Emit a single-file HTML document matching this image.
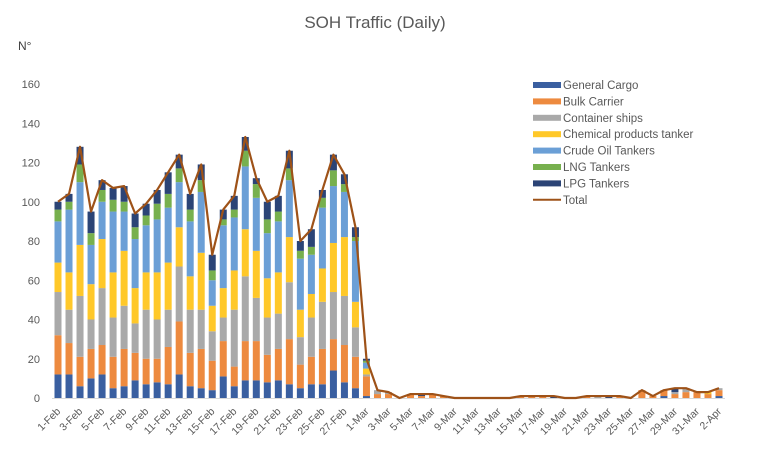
<!DOCTYPE html>
<html><head><meta charset="utf-8"><style>
html,body{margin:0;padding:0;background:#fff;}
svg{display:block;font-family:"Liberation Sans",sans-serif;}
</style></head><body>
<svg id="chart" width="763" height="454" viewBox="0 0 763 454" xmlns="http://www.w3.org/2000/svg">
<rect width="763" height="454" fill="#fff"/>
<text x="375" y="28" text-anchor="middle" font-size="17" fill="#595959">SOH Traffic (Daily)</text>
<text x="18" y="50" font-size="12" fill="#404040">N°</text>
<g id="yaxis"></g><g id="bars"></g><g id="xaxis"></g><g id="line"></g><g id="legend"></g>
</svg>
<script>
const categories = (function(){const a=[];for(let d=1;d<=28;d++)a.push(d+'-Feb');for(let d=1;d<=31;d++)a.push(d+'-Mar');a.push('1-Apr','2-Apr');return a;})();
const seriesNames = ['General Cargo','Bulk Carrier','Container ships','Chemical products tanker','Crude Oil Tankers','LNG Tankers','LPG Tankers'];
const seriesColors = ['#3a5fa0','#ed8a3f','#a9a9a9','#ffc829','#6b9fd6','#77b04e','#2b4476'];
const generalCargo = [12,12,6,10,12,5,6,9,7,8,7,12,6,5,4,11,6,9,9,8,9,7,5,7,7,14,8,5, 1,0,0,0,0,0,0,0,0,0,0,0,0,0,0,0,0,0,0,0,0,0,0,0,0,0,0,1,0,0,0,0,1,0];
const bulkCarrier = [20,16,15,15,15,16,19,14,13,12,19,27,17,20,15,18,10,20,20,14,16,23,12,14,18,16,19,16, 10,2,2,0,2,1,2,1,0,0,0,0,0,0,1,1,1,0,0,0,1,0,0,1,0,4,1,3,2,3,3,2,3];
const containerShips = [22,17,31,15,29,20,22,15,25,20,19,28,22,20,15,12,29,33,22,19,18,29,14,20,24,24,25,15, 1,2,1,0,0,0,0,0,0,0,0,0,0,0,0,0,0,0,0,0,0,1,0,0,0,0,0,0,1,2,0,0,1];
const chemicalTanker = [15,19,26,18,25,23,28,18,19,24,24,20,17,29,13,15,20,24,24,20,21,23,14,12,17,25,30,13, 3,0,0,0,0,0,0,0,0,0,0,0,0,0,0,0,0,0,0,0,0,0,0,0,0,0,0,0,0,0,0,1,0];
const crudeOilTankers = [21,32,32,20,19,31,20,25,24,27,28,23,28,31,13,32,27,32,27,23,26,29,26,20,31,29,23,31, 3,0,0,0,0,0,0,0,0,0,0,0,0,0,0,0,0,0,0,0,0,0,0,0,0,0,0,0,0,0,0,0,0];
const lngTankers = [6,4,9,6,6,6,5,6,5,8,7,7,6,6,5,3,4,8,7,7,5,6,4,4,5,8,4,2, 1,0,0,0,0,0,0,0,0,0,0,0,0,0,0,0,0,0,0,0,0,0,0,0,0,0,0,0,0,0,0,0,0];
const lpgTankers = [4,4,9,11,5,6,8,7,6,7,11,7,8,8,8,5,7,7,3,9,8,9,5,9,4,8,5,5, 1,0,0,0,0,1,0,0,0,0,0,0,0,0,0,0,0,1,0,0,0,0,1,0,0,0,0,0,2,0,0,0,0,2];
const yTicks = [0,20,40,60,80,100,120,140,160];

const series=[generalCargo,bulkCarrier,containerShips,chemicalTanker,crudeOilTankers,lngTankers,lpgTankers];
const NS='http://www.w3.org/2000/svg';
function mk(t,attrs,parent){const e=document.createElementNS(NS,t);for(const k in attrs)e.setAttribute(k,attrs[k]);parent.appendChild(e);return e;}
const n=categories.length;
const X0=58, X1=719;
function xScale(i){return X0+i*(X1-X0)/(n-1);}
function yScale(v){return 398 - v*(314/160);}
const bw=7;
const yg=document.getElementById('yaxis');
yTicks.forEach(t=>{const e=mk('text',{x:40,y:yScale(t)+4,'text-anchor':'end','font-size':11,fill:'#595959'},yg);e.textContent=t;

});
const ax=mk('line',{x1:52,x2:725,y1:yScale(0)+0.5,y2:yScale(0)+0.5,stroke:'#d9d9d9','stroke-width':1},yg);


const bg=document.getElementById('bars');
const totals=[];
for(let i=0;i<n;i++){let c=0;
 series.forEach((s,k)=>{const v=s[i]||0;if(v>0){const r=mk('rect',{x:xScale(i)-bw/2,y:yScale(c+v),width:bw,height:yScale(c)-yScale(c+v),fill:seriesColors[k]},bg);
 
 }c+=v;});
 totals.push(c);}
const xg=document.getElementById('xaxis');
for(let i=0;i<n;i+=2){const x=xScale(i),y=412;
 const e=mk('text',{x:x+3,y:y,'text-anchor':'end','font-size':10.5,fill:'#595959',transform:'rotate(-45 '+(x+3)+' '+y+')'},xg);e.textContent=categories[i];
 
 }
const lg=document.getElementById('line');
const p=mk('polyline',{points:totals.map((v,i)=>xScale(i)+','+yScale(v)).join(' '),fill:'none',stroke:'#9e5218','stroke-width':2.2,'stroke-linejoin':'round'},lg);


const leg=document.getElementById('legend');
seriesNames.concat(['Total']).forEach((nm,k)=>{const y=85+k*16.4;
 const g=mk('g',{},leg);
 
 
 if(k<7)mk('rect',{x:533,y:y-3,width:28,height:6,fill:seriesColors[k]},g);
 else mk('line',{x1:533,x2:561,y1:y,y2:y,stroke:'#9e5218','stroke-width':2},g);
 const t=mk('text',{x:563,y:y+4,'font-size':11.5,fill:'#595959'},g);t.textContent=nm;});
</script>
</body></html>
